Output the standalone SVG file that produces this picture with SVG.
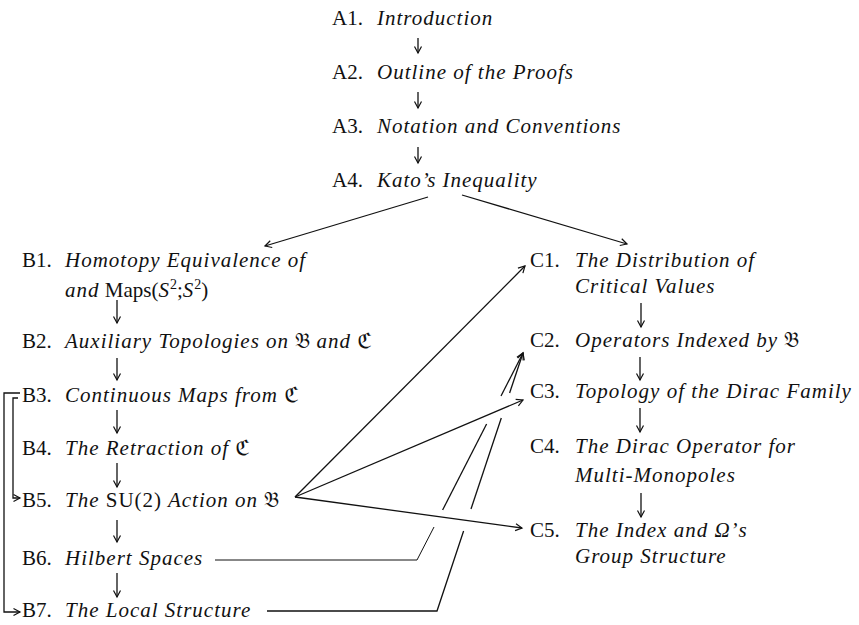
<svg xmlns="http://www.w3.org/2000/svg" width="859" height="625" viewBox="0 0 859 625">
<style>
text{font-family:"Liberation Serif","Times New Roman",serif;font-size:21px;fill:#111}
.t{font-style:italic;letter-spacing:1px}
.u{font-style:normal}
.sup{font-size:14px;font-style:normal}
.fr{font-family:"DejaVu Serif","DejaVu Sans","Noto Sans",serif;font-style:normal;letter-spacing:0}
.c line,.c path{stroke:#111;stroke-width:1.3;fill:none}
.c .a{marker-end:url(#ah)}
.c .thin{stroke-width:1}
</style>
<defs>
<marker id="ah" markerWidth="10" markerHeight="10" viewBox="-8 -5 10 10" refX="0" refY="0" orient="auto" markerUnits="userSpaceOnUse">
<path d="M-6.5,-3.5 L0,0 L-6.5,3.5" fill="none" stroke="#111" stroke-width="1.2"/>
</marker>
</defs>
<rect width="859" height="625" fill="#fff"/>

<g id="A1"><text x="332" y="25">A1. <tspan x="377" class="t">Introduction</tspan></text></g>
<g id="A2"><text x="332" y="79">A2. <tspan x="377" class="t">Outline of the Proofs</tspan></text></g>
<g id="A3"><text x="332" y="133">A3. <tspan x="377" class="t">Notation and Conventions</tspan></text></g>
<g id="A4"><text x="332" y="187">A4. <tspan x="377" class="t">Kato’s Inequality</tspan></text></g>

<g id="B1"><text x="22" y="267">B1. <tspan x="65" class="t">Homotopy Equivalence of</tspan></text>
<text x="65" y="297"><tspan class="t">and</tspan> Maps(<tspan class="t">S</tspan><tspan class="sup" dy="-8">2</tspan><tspan dy="8">;</tspan><tspan class="t">S</tspan><tspan class="sup" dy="-8">2</tspan><tspan dy="8">)</tspan></text></g>
<g id="B2"><text x="22" y="348">B2. <tspan x="65" class="t">Auxiliary Topologies on <tspan class="fr">𝔅</tspan> and <tspan class="fr">ℭ</tspan></tspan></text></g>
<g id="B3"><text x="22" y="402">B3. <tspan x="65" class="t">Continuous Maps from <tspan class="fr">ℭ</tspan></tspan></text></g>
<g id="B4"><text x="22" y="455">B4. <tspan x="65" class="t">The Retraction of <tspan class="fr">ℭ</tspan></tspan></text></g>
<g id="B5"><text x="22" y="507">B5. <tspan x="65" class="t">The <tspan class="u">SU(2)</tspan> Action on <tspan class="fr">𝔅</tspan></tspan></text></g>
<g id="B6"><text x="22" y="565">B6. <tspan x="65" class="t">Hilbert Spaces</tspan></text></g>
<g id="B7"><text x="22" y="617">B7. <tspan x="65" class="t">The Local Structure</tspan></text></g>

<g id="C1"><text x="530" y="267">C1. <tspan x="575" class="t">The Distribution of</tspan></text>
<text x="575" y="293" class="t">Critical Values</text></g>
<g id="C2"><text x="530" y="347">C2. <tspan x="575" class="t">Operators Indexed by <tspan class="fr">𝔅</tspan></tspan></text></g>
<g id="C3"><text x="530" y="398">C3. <tspan x="575" class="t">Topology of the Dirac Family</tspan></text></g>
<g id="C4"><text x="530" y="453">C4. <tspan x="575" class="t">The Dirac Operator for</tspan></text>
<text x="575" y="482" class="t">Multi-Monopoles</text></g>
<g id="C5"><text x="530" y="537">C5. <tspan x="575" class="t">The Index and Ω’s</tspan></text>
<text x="575" y="563" class="t">Group Structure</text></g>

<g id="connectors" class="c">
<line class="a" x1="418" y1="38" x2="418" y2="53"/>
<line class="a" x1="418" y1="92" x2="418" y2="108"/>
<line class="a" x1="418" y1="147" x2="418" y2="163"/>
<line class="a" x1="428" y1="197" x2="265" y2="246"/>
<line class="a" x1="462" y1="195" x2="627" y2="244"/>

<line class="a" x1="117" y1="300" x2="117" y2="323"/>
<line class="a" x1="117" y1="358" x2="117" y2="380"/>
<line class="a" x1="117" y1="410" x2="117" y2="433"/>
<line class="a" x1="117" y1="463" x2="117" y2="487"/>
<line class="a" x1="117" y1="520" x2="117" y2="542"/>
<line class="a" x1="117" y1="573" x2="117" y2="597"/>

<line class="a" x1="641" y1="303" x2="641" y2="327"/>
<line class="a" x1="640" y1="357" x2="640" y2="380"/>
<line class="a" x1="640" y1="408" x2="640" y2="432"/>
<line class="a" x1="641" y1="493" x2="641" y2="517"/>

<path class="a" d="M20,393 H4 V612 H20"/>
<path class="a" d="M18,398 H13 V498 H20"/>

<line class="a" x1="295" y1="497" x2="525" y2="266"/>
<line class="a" x1="295" y1="497" x2="523" y2="400"/>
<line class="a" x1="295" y1="497" x2="522" y2="528"/>

<path class="thin" d="M215,560 H417 L434,527"/>
<line x1="442.6" y1="510" x2="486.6" y2="424"/>
<line class="a" x1="501" y1="396" x2="523" y2="353"/>

<path d="M267,611 H437 L463.6,531"/>
<line x1="471" y1="509" x2="501.3" y2="418"/>
<line class="a" x1="509.6" y1="393" x2="523" y2="353"/>
</g>
</svg>
